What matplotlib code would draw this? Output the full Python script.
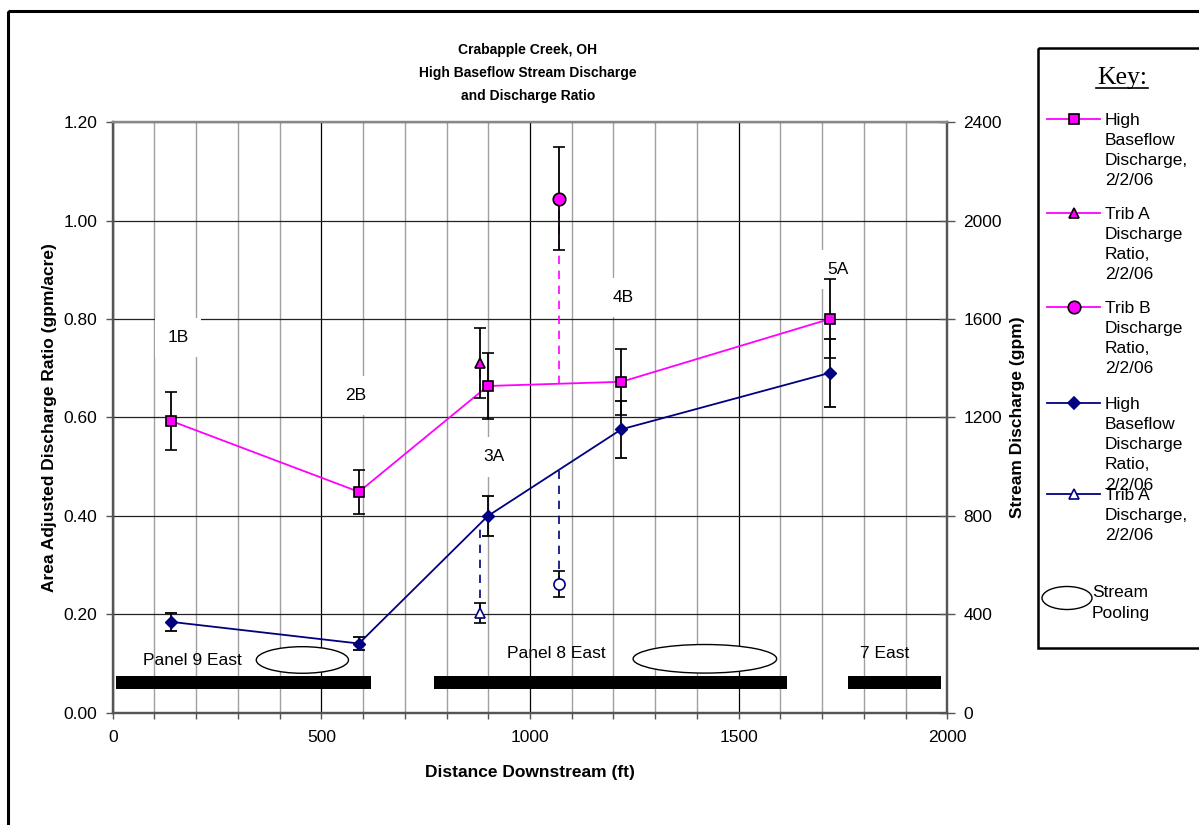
import matplotlib.pyplot as plt
import numpy as np
from matplotlib.patches import Ellipse, Rectangle
from matplotlib.lines import Line2D

plt.rcParams['font.family'] = ['Liberation Sans', 'DejaVu Sans']

# Main stream monitoring sites
sites = ['1B', '2B', '3A', '4B', '5A']
dist_ft = [140, 590, 899, 1219, 1720]
discharge_gpm = [1186, 898, 1328, 1345, 1601]
discharge_ratio = [0.185, 0.141, 0.400, 0.576, 0.691]

# Tributaries entering the main channel
trib_names = ['Trib A', 'Trib B']
trib_dist_ft = [879, 1069]
trib_ratio = [0.71, 1.044]
trib_discharge_gpm = [405, 523]

# Longwall panels under the creek
panels = ['Panel 9 East', 'Panel 8 East', '7 East']
panel_start_ft = [8, 770, 1763]
panel_end_ft = [620, 1617, 1984]

# Stream pooling reaches (start, end in ft)
pool_start_ft = [344, 1247]
pool_end_ft = [565, 1591]

ERR_FRAC = 0.10          # +/- 10 % error on every measurement
GPM_PER_RATIO = 2000     # right axis is 2000x the left axis
PINK = '#FF00FF'
NAVY = '#000080'
FS = 12.5

fig = plt.figure(figsize=(11.99, 8.25), dpi=100)
ax = fig.add_axes([0.0940, 0.1358, 0.6961, 0.7163])
ax2 = ax.twinx()

ax.set_xlim(0, 2000)
ax.set_ylim(0, 1.2)
ax2.set_ylim(0, 2400)

# grid: light minor lines every 100 ft, dark major ones every 500 ft
ax.set_xticks(np.arange(0, 2001, 500))
ax.set_xticks(np.arange(0, 2001, 100), minor=True)
ax.set_yticks(np.arange(0, 1.21, 0.2))
ax.yaxis.set_major_formatter(plt.FormatStrFormatter('%.2f'))
ax2.set_yticks(np.arange(0, 2401, 400))
ax.grid(which='minor', axis='x', color='#a0a0a0', lw=1.0)
ax.grid(which='major', axis='x', color='black', lw=0.9)
ax.grid(which='major', axis='y', color='#222222', lw=0.9)

for a in (ax, ax2):
    for side in ('left', 'bottom', 'right'):
        a.spines[side].set_color('#555555')
        a.spines[side].set_linewidth(1.6)
    a.spines['top'].set_color('#888888')
    a.spines['top'].set_linewidth(1.6)

ax.tick_params(axis='x', which='both', direction='out', length=4, width=1,
               color='#555555', labelsize=FS, pad=8)
ax.tick_params(axis='y', direction='out', length=5, width=1,
               color='#555555', labelsize=FS, pad=6)
ax2.tick_params(axis='y', direction='inout', length=11, width=1,
                color='#555555', labelsize=FS, pad=6)

ax.set_xlabel('Distance Downstream (ft)', fontsize=FS, fontweight='bold', labelpad=15)
ax.set_ylabel('Area Adjusted Discharge Ratio (gpm/acre)', fontsize=FS,
              fontweight='bold', labelpad=5)
ax2.set_ylabel('Stream Discharge (gpm)', fontsize=FS, fontweight='bold', labelpad=6)

# panels and pooling reaches along the bottom
panel_w = np.array(panel_end_ft) - np.array(panel_start_ft)
ax.barh([0.062] * len(panels), panel_w, left=panel_start_ft, height=0.026,
        color='black', zorder=2)
for name, x, y in zip(panels, [190, 1064, 1849], [0.107, 0.12, 0.12]):
    ax.text(x, y, name, fontsize=FS, ha='center', va='center', zorder=3)
for s, e, y, h in zip(pool_start_ft, pool_end_ft, [0.1076, 0.110], [0.054, 0.058]):
    ax.add_patch(Ellipse(((s + e) / 2, y), e - s, h, facecolor='white',
                         edgecolor='black', lw=1, zorder=3))

# site labels with a white box over the grid
label_pos = [(156, 0.763), (583, 0.644), (914, 0.520), (1224, 0.844), (1738, 0.900)]
for name, (x, y) in zip(sites, label_pos):
    ax.text(x, y, name, fontsize=FS, ha='center', va='center', zorder=3,
            bbox=dict(boxstyle='square,pad=0.7', fc='white', ec='none'))

ebar = dict(ecolor='black', elinewidth=1.3, capsize=4, capthick=1.3)

# discharge ratio (left axis)
ratio = np.array(discharge_ratio)
ax.errorbar(dist_ft, ratio, yerr=ERR_FRAC * ratio, color=NAVY, lw=1.3,
            marker='D', ms=6, mfc=NAVY, mec=NAVY, zorder=4, **ebar)

# tributary discharge joins the ratio line with a dashed tie
for x, qt in zip(trib_dist_ft, trib_discharge_gpm):
    ax.plot([x, x], [qt / GPM_PER_RATIO, np.interp(x, dist_ft, ratio)],
            ls=(0, (5, 4)), color=NAVY, lw=1.2, zorder=4)

# stream discharge (right axis)
q = np.array(discharge_gpm)
ax2.errorbar(dist_ft, q, yerr=ERR_FRAC * q, color=PINK, lw=1.3,
             marker='s', ms=7.5, mfc=PINK, mec='black', mew=1.2, zorder=4, **ebar)

for x, r in zip(trib_dist_ft, trib_ratio):
    ax2.plot([x, x], [np.interp(x, dist_ft, q), r * GPM_PER_RATIO],
             ls=(0, (5, 4)), color=PINK, lw=1.2, zorder=3)

trib_q = np.array(trib_discharge_gpm)
trib_r = np.array(trib_ratio)
for i, mk in enumerate(['^', 'o']):
    ax2.errorbar(trib_dist_ft[i], trib_q[i], yerr=ERR_FRAC * trib_q[i],
                 marker=mk, ms=8 if mk == 'o' else 7, mfc='white', mec=NAVY,
                 mew=1.2, ls='none', zorder=5, **ebar)
    ax2.errorbar(trib_dist_ft[i], trib_r[i] * GPM_PER_RATIO,
                 yerr=ERR_FRAC * trib_r[i] * GPM_PER_RATIO,
                 marker=mk, ms=9 if mk == 'o' else 7, mfc=PINK, mec='black',
                 mew=1.2, ls='none', zorder=5, **ebar)

fig.text(528 / 1199, 1 - 73 / 825,
         'Crabapple Creek, OH\nHigh Baseflow Stream Discharge\nand Discharge Ratio',
         ha='center', va='center', fontsize=10, fontweight='bold', linespacing=1.78)

# overlay in pixel coordinates for the outer frame and the key
lay = fig.add_axes([0, 0, 1, 1], zorder=10)
lay.set_xlim(0, 1199)
lay.set_ylim(825, 0)
lay.axis('off')
lay.add_patch(Rectangle((8, 11), 1300, 900, fill=False, ec='black', lw=2.2,
                        clip_on=False))
lay.add_patch(Rectangle((1038, 48), 300, 600, fill=False, ec='black', lw=1.8,
                        clip_on=False))
lay.text(1122, 84, 'Key:', family='Liberation Serif', fontsize=18.5,
         ha='center', va='baseline')
lay.add_line(Line2D([1096, 1148], [88, 88], color='black', lw=1.2))

key_entries = [
    ('High\nBaseflow\nDischarge,\n2/2/06', PINK, 's', PINK, 'black', 7.5, 119),
    ('Trib A\nDischarge\nRatio,\n2/2/06', PINK, '^', PINK, 'black', 7, 213),
    ('Trib B\nDischarge\nRatio,\n2/2/06', PINK, 'o', PINK, 'black', 9, 307),
    ('High\nBaseflow\nDischarge\nRatio,\n2/2/06', NAVY, 'D', NAVY, NAVY, 6, 403),
    ('Trib A\nDischarge,\n2/2/06', NAVY, '^', 'white', NAVY, 7, 494),
]
for text, c, mk, fc, ec, ms, y in key_entries:
    lay.add_line(Line2D([1047, 1100], [y, y], color=c, lw=1.3))
    lay.add_line(Line2D([1074], [y], marker=mk, ms=ms, mfc=fc, mec=ec, mew=1.2))
    lay.text(1105, y - 6, text, fontsize=FS, ha='left', va='top', linespacing=1.43)

lay.add_patch(Ellipse((1067, 598), 50, 23, fc='white', ec='black', lw=1))
lay.text(1092, 585, 'Stream\nPooling', fontsize=FS, ha='left', va='top',
         linespacing=1.46)

fig.savefig('out.png', dpi=100)
